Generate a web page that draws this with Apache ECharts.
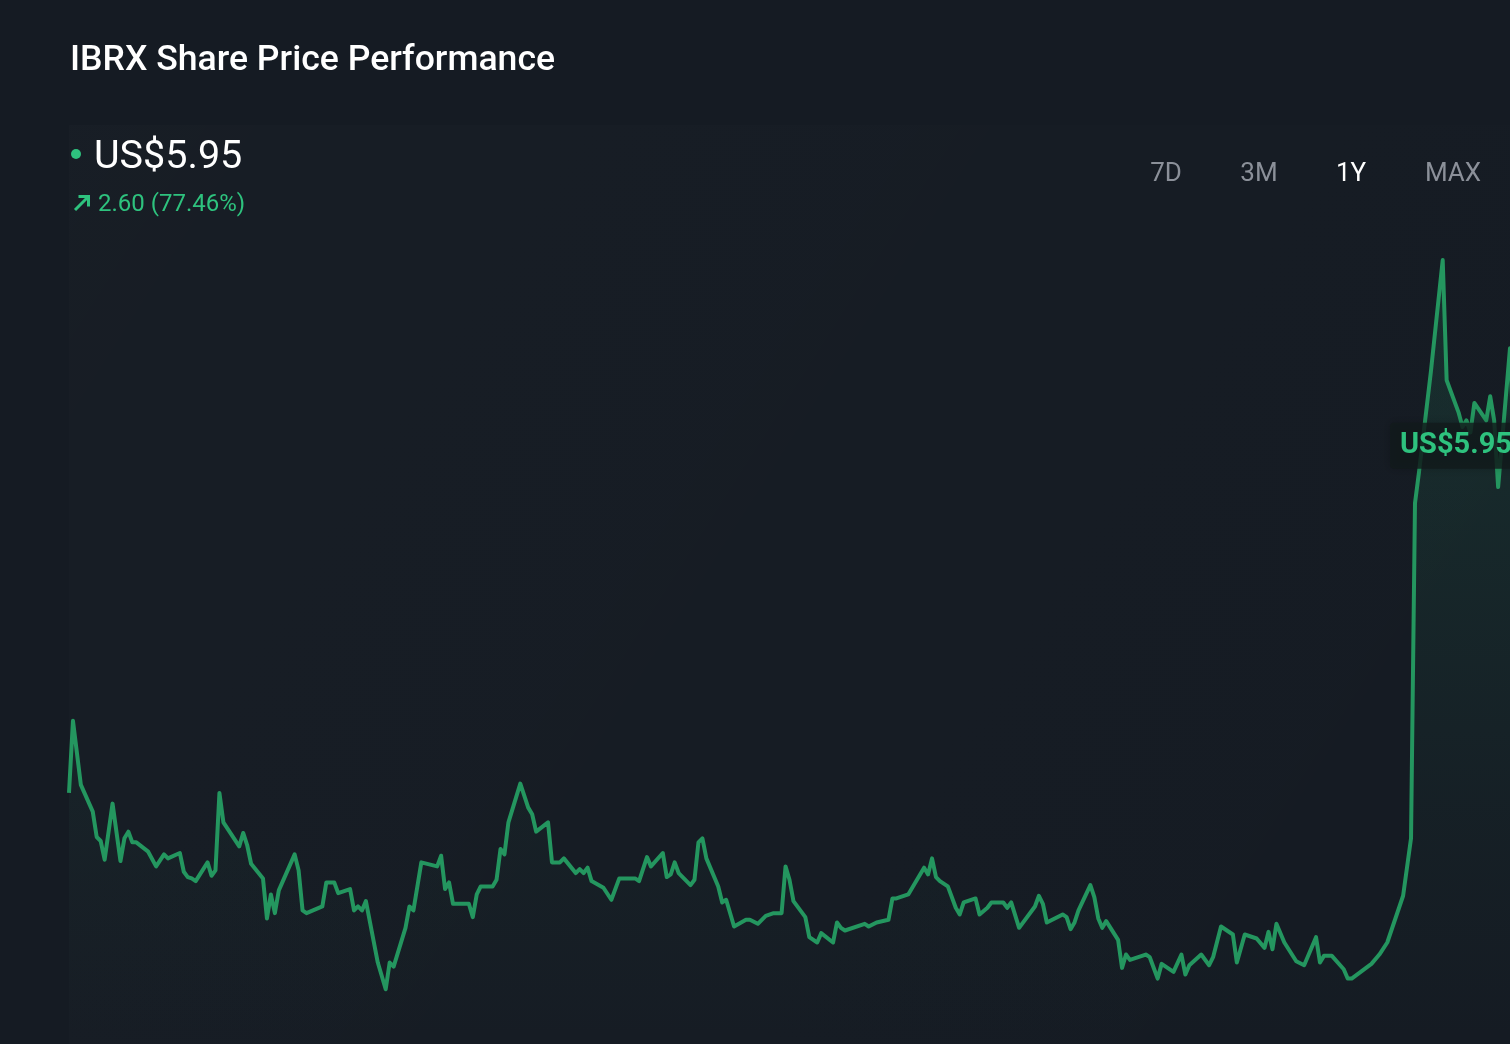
<!DOCTYPE html>
<html>
<head>
<meta charset="utf-8">
<title>IBRX Share Price Performance</title>
<script src="https://cdn.jsdelivr.net/npm/echarts@6/dist/echarts.min.js"></script>
<style>
  html, body { margin: 0; padding: 0; background: #151b23; }
  #chart { width: 1510px; height: 1044px; }
</style>
</head>
<body>
<div id="chart"></div>
<script>
// Chart Data
const ticker = "IBRX";
const startDate = "2025-01-24";
// the page crops the chart a little before the last close
const visibleDays = 364;

// days since startDate for each close
const dayOffsets = [
  0, 1, 3, 6, 7, 8, 9, 11, 13, 14,
  15, 16, 17, 20, 22, 24, 25, 28, 29, 30,
  31, 32, 35, 36, 37, 38, 39, 43, 44, 45,
  46, 49, 50, 51, 52, 53, 57, 58, 59, 60,
  64, 65, 67, 68, 71, 72, 73, 74, 75, 78,
  80, 81, 82, 85, 86, 87, 89, 93, 94, 95,
  96, 97, 101, 102, 103, 104, 107, 108, 109, 110,
  111, 114, 116, 117, 118, 121, 122, 124, 125, 128,
  129, 130, 131, 132, 135, 137, 139, 143, 144, 146,
  147, 150, 151, 152, 153, 154, 157, 158, 159, 160,
  161, 164, 165, 166, 168, 171, 172, 174, 176, 178,
  180, 181, 182, 183, 186, 187, 189, 190, 193, 194,
  195, 196, 201, 202, 204, 207, 208, 209, 212, 216,
  217, 218, 219, 220, 222, 224, 225, 226, 229, 230,
  232, 233, 236, 237, 238, 240, 244, 245, 246, 247,
  251, 252, 253, 254, 255, 258, 259, 260, 261, 262,
  265, 266, 267, 268, 272, 273, 275, 276, 279, 281,
  282, 283, 286, 288, 289, 291, 294, 295, 297, 300,
  302, 303, 304, 305, 307, 310, 312, 315, 316, 317,
  319, 322, 323, 324, 329, 331, 333, 337, 339, 340,
  341, 344, 347, 348, 351, 352, 353, 354, 355, 358,
  359, 360, 361, 364, 365
];

// closing price, US$
const prices = [
  3.35, 3.89, 3.41, 3.21, 3.02, 2.99, 2.85, 3.27, 2.84, 3.01,
  3.06, 2.98, 2.98, 2.91, 2.80, 2.89, 2.86, 2.90, 2.76, 2.72,
  2.71, 2.69, 2.83, 2.73, 2.77, 3.35, 3.13, 2.95, 3.05, 2.96,
  2.82, 2.71, 2.41, 2.59, 2.45, 2.62, 2.89, 2.77, 2.47, 2.45,
  2.50, 2.68, 2.68, 2.60, 2.63, 2.47, 2.50, 2.47, 2.54, 2.08,
  1.88, 2.08, 2.05, 2.34, 2.50, 2.47, 2.83, 2.80, 2.88, 2.63,
  2.68, 2.52, 2.52, 2.42, 2.59, 2.65, 2.65, 2.70, 2.93, 2.89,
  3.13, 3.42, 3.24, 3.19, 3.06, 3.13, 2.83, 2.83, 2.86, 2.75,
  2.78, 2.75, 2.79, 2.69, 2.64, 2.55, 2.71, 2.71, 2.69, 2.87,
  2.80, 2.90, 2.72, 2.74, 2.83, 2.75, 2.66, 2.70, 2.98, 3.01,
  2.86, 2.65, 2.53, 2.55, 2.35, 2.40, 2.40, 2.37, 2.43, 2.45,
  2.45, 2.80, 2.70, 2.54, 2.42, 2.27, 2.23, 2.30, 2.23, 2.38,
  2.34, 2.32, 2.37, 2.35, 2.38, 2.40, 2.56, 2.56, 2.59, 2.79,
  2.74, 2.86, 2.72, 2.69, 2.65, 2.49, 2.44, 2.53, 2.56, 2.44,
  2.49, 2.53, 2.53, 2.49, 2.53, 2.34, 2.50, 2.58, 2.52, 2.38,
  2.44, 2.42, 2.33, 2.38, 2.47, 2.66, 2.57, 2.41, 2.34, 2.39,
  2.25, 2.04, 2.14, 2.10, 2.14, 2.12, 1.96, 2.07, 2.01, 2.14,
  1.99, 2.06, 2.14, 2.06, 2.12, 2.35, 2.29, 2.08, 2.29, 2.26,
  2.19, 2.31, 2.18, 2.37, 2.23, 2.09, 2.06, 2.27, 2.08, 2.13,
  2.13, 2.03, 1.96, 1.96, 2.07, 2.14, 2.23, 2.58, 3.01, 5.52,
  5.75, 6.50, 7.34, 6.44, 6.20, 6.09, 6.14, 6.05, 6.27, 6.14,
  6.32, 6.14, 5.64, 6.68, 5.95
];

// header figures as shown on the page
const lastPrice = 5.95;
const changeAbs = 2.60;
const changePct = 77.46;

const periods = ["7D", "3M", "1Y", "MAX"];
const activePeriod = "1Y";

// Colors
const bgColor = "#151b23";
const lineColor = "#24965f";
const upColor = "#2ec27e";

// Derived values
const DAY = 24 * 3600 * 1000;
const t0 = new Date(startDate + "T00:00:00").getTime();
const seriesData = dayOffsets.map((d, i) => [t0 + d * DAY, prices[i]]);

// Chart Functionalities
const chartElem = document.getElementById("chart");
let chart = echarts.init(chartElem, null, { renderer: "canvas" });

const font = "Roboto, 'Noto Sans', sans-serif";
const periodX = [1166, 1259, 1351, 1453];

let headerGraphics = [
  {
    type: "rect",
    silent: true,
    z: -10,
    shape: { x: 69, y: 125, width: 1441, height: 919 },
    style: {
      fill: new echarts.graphic.LinearGradient(0, 0, 1, 1, [
        { offset: 0, color: "rgba(255,255,255,0.012)" },
        { offset: 1, color: "rgba(255,255,255,0.0)" },
      ]),
    },
  },
  {
    type: "text",
    left: 70,
    top: 43,
    style: {
      text: ticker + " Share Price Performance",
      fill: "#ffffff",
      font: "500 35.6px " + font,
    },
  },
  {
    type: "circle",
    shape: { cx: 76, cy: 154, r: 5 },
    style: { fill: upColor },
  },
  {
    type: "text",
    left: 94,
    top: 138,
    style: {
      text: "US$" + lastPrice.toFixed(2),
      fill: "#ffffff",
      font: "400 39.5px " + font,
    },
  },
  {
    type: "polyline",
    shape: { points: [[75, 210], [88, 197]] },
    style: { stroke: upColor, lineWidth: 3 },
  },
  {
    type: "polyline",
    shape: { points: [[78.5, 196.5], [88.5, 196.5], [88.5, 206.5]] },
    style: { stroke: upColor, lineWidth: 3, fill: null },
  },
  {
    type: "text",
    left: 98,
    top: 193,
    style: {
      text: changeAbs.toFixed(2) + " (" + changePct.toFixed(2) + "%)",
      fill: upColor,
      font: "400 24px " + font,
    },
  },
];

periods.forEach((p, i) => {
  headerGraphics.push({
    type: "text",
    x: periodX[i],
    y: 174,
    style: {
      text: p,
      fill: p === activePeriod ? "#ffffff" : "#8b9099",
      font: "400 26px " + font,
      align: "center",
      verticalAlign: "middle",
    },
  });
});

let option = {
  backgroundColor: bgColor,
  animation: false,
  grid: { left: 69, right: 0, top: 200, bottom: 0, containLabel: false },
  xAxis: {
    type: "time",
    min: t0,
    max: t0 + visibleDays * DAY,
    show: false,
  },
  yAxis: {
    type: "value",
    min: 1.47,
    max: 7.79,
    show: false,
  },
  series: [
    {
      type: "line",
      data: seriesData,
      showSymbol: false,
      clip: true,
      lineStyle: { color: lineColor, width: 4, join: "round" },
      areaStyle: {
        color: new echarts.graphic.LinearGradient(0, 0, 0, 1, [
          { offset: 0, color: "rgba(40,160,110,0.22)" },
          { offset: 0.7, color: "rgba(40,160,110,0.05)" },
          { offset: 1, color: "rgba(40,160,110,0.0)" },
        ]),
      },
    },
  ],
  graphic: headerGraphics,
};

chart.setOption(option);

// current price tag, placed on the last value
const tagY = chart.convertToPixel({ yAxisIndex: 0 }, lastPrice);
headerGraphics.push({
  type: "group",
  x: 1390,
  y: tagY,
  z: 100,
  children: [
    {
      type: "rect",
      z: 100,
      shape: { x: 0, y: -23, width: 150, height: 46, r: 4 },
      style: {
        fill: "rgba(18,26,28,0.8)",
        shadowBlur: 10,
        shadowColor: "rgba(0,0,0,0.25)",
      },
    },
    {
      type: "text",
      z: 101,
      x: 10,
      y: 0,
      style: {
        text: "US$" + lastPrice.toFixed(2),
        fill: upColor,
        font: "700 29px " + font,
        verticalAlign: "middle",
      },
    },
  ],
});
chart.setOption({ graphic: headerGraphics });
</script>
</body>
</html>
